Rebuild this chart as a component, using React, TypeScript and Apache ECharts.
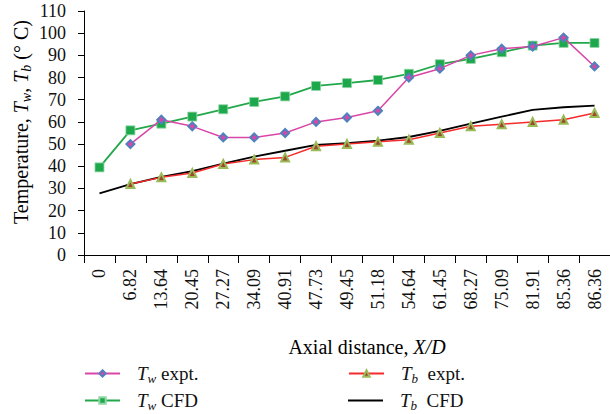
import React, { useEffect, useRef } from "react";
import * as echarts from "echarts";

// Axial positions X/D
const categories = [
  "0", "6.82", "13.64", "20.45", "27.27", "34.09", "40.91", "47.73", "49.45",
  "51.18", "54.64", "61.45", "68.27", "75.09", "81.91", "85.36", "86.36",
];

// Wall temperature, experiment (°C)
const twExpt = [null, 50, 61, 58, 53, 53, 55, 60, 62, 65, 80, 84, 90, 93, 94, 98, 85];
// Wall temperature, CFD (°C)
const twCfd = [39.5, 56.2, 59.2, 62.4, 65.7, 69, 71.5, 76.2, 77.5, 78.9, 81.7, 86, 88.4, 91.4, 94.4, 95.6, 95.6];
// Bulk temperature, experiment (°C)
const tbExpt = [null, 32, 35, 37, 41, 43, 44, 49, 50, 51, 52, 55, 58, 59, 60, 61, 64];
// Bulk temperature, CFD (°C)
const tbCfd = [27.8, 32, 35.2, 37.8, 41.2, 44.4, 47, 49.6, 50.4, 51.6, 53.2, 56, 59.2, 62.4, 65.4, 66.6, 67.3];

const yTicks = { min: 0, max: 110, interval: 10 };

const FONT = "Liberation Serif";

function richSet(size: number) {
  const sub = Math.round(size * 0.68);
  return {
    n: { fontFamily: FONT, fontSize: size, lineHeight: size + 4, color: "#111" },
    i: { fontFamily: FONT, fontSize: size, lineHeight: size + 4, fontStyle: "italic", color: "#111" },
    s: {
      fontFamily: FONT,
      fontSize: sub,
      lineHeight: sub,
      fontStyle: "italic",
      color: "#111",
      verticalAlign: "bottom",
      padding: [Math.round(size * 0.35), 0, 0, 0],
    },
  };
}

const legendLabels: Record<string, string> = {
  "Tw expt.": "{i|T}{s|w}{n| expt.}",
  "Tw CFD": "{i|T}{s|w}{n| CFD}",
  "Tb expt.": "{i|T}{s|b}{n|  expt.}",
  "Tb CFD": "{i|T}{s|b}{n|  CFD}",
};

function legendAt(name: string, left: number, top: number, plainLine = false) {
  return {
    data: [plainLine ? { name, icon: "rect" } : name],
    left,
    top,
    itemWidth: 35,
    itemHeight: plainLine ? 2 : 8,
    itemGap: 0,
    padding: 0,
    selectedMode: false,
    formatter: (n: string) => legendLabels[n],
    textStyle: { padding: [0, 0, 0, 12], rich: richSet(19) },
  };
}

export default function App() {
  const ref = useRef<HTMLDivElement>(null);

  useEffect(() => {
    if (!ref.current) return;
    const chart = echarts.init(ref.current, null, { renderer: "svg" });
    chart.setOption({
      animation: false,
      backgroundColor: "#fff",
      grid: { left: 84, right: 0, top: 11, bottom: 159 },
      xAxis: {
        type: "category",
        data: categories,
        boundaryGap: true,
        axisLine: { lineStyle: { color: "#000", width: 1 } },
        axisTick: { show: true, length: 8, lineStyle: { color: "#000" } },
        axisLabel: {
          rotate: 90,
          margin: 14,
          interval: 0,
          fontFamily: FONT,
          fontSize: 18,
          color: "#111",
        },
      },
      yAxis: {
        type: "value",
        ...yTicks,
        axisLine: { show: true, lineStyle: { color: "#000", width: 1 } },
        axisTick: { show: true, length: 6, lineStyle: { color: "#000" } },
        splitLine: { show: false },
        axisLabel: { margin: 18, fontFamily: FONT, fontSize: 18, color: "#111" },
      },
      legend: [
        legendAt("Tw expt.", 84, 364),
        legendAt("Tw CFD", 84, 391),
        legendAt("Tb expt.", 348, 364),
        legendAt("Tb CFD", 348, 391, true),
      ],
      graphic: [
        {
          type: "text",
          x: 367,
          y: 347,
          style: {
            text: "{n|Axial distance, }{i|X/D}",
            rich: richSet(20),
            align: "center",
            verticalAlign: "middle",
          },
        },
        {
          type: "text",
          x: 21,
          y: 122,
          rotation: Math.PI / 2,
          style: {
            text: "{n|Temperature, }{i|T}{s|w}{n|, }{i|T}{s|b}{n| (° C)}",
            rich: richSet(20),
            align: "center",
            verticalAlign: "middle",
          },
        },
      ],
      series: [
        {
          name: "Tw expt.",
          type: "line",
          data: twExpt,
          symbol: "diamond",
          symbolSize: 8,
          lineStyle: { color: "#d946a8", width: 1.5 },
          itemStyle: { color: "#d946a8", borderColor: "#4f81bd", borderWidth: 2 },
          z: 4,
        },
        {
          name: "Tw CFD",
          type: "line",
          data: twCfd,
          symbol: "rect",
          symbolSize: 9,
          lineStyle: { color: "#22a84a", width: 1.8 },
          itemStyle: { color: "#1ea84c", borderColor: "#8fd6a4", borderWidth: 0.8 },
          z: 3,
        },
        {
          name: "Tb expt.",
          type: "line",
          data: tbExpt,
          symbol: "triangle",
          symbolSize: 8,
          lineStyle: { color: "#f52a2a", width: 1.5 },
          itemStyle: { color: "#9a4a2a", borderColor: "#9bbb59", borderWidth: 2 },
          z: 3,
        },
        {
          name: "Tb CFD",
          type: "line",
          data: tbCfd,
          symbol: "none",
          showSymbol: false,
          lineStyle: { color: "#000", width: 1.8 },
          itemStyle: { color: "#000" },
          z: 2,
        },
      ],
    });
    return () => chart.dispose();
  }, []);

  return (
    <div
      ref={ref}
      style={{ position: "absolute", left: 0, top: 0, width: 610, height: 414 }}
    />
  );
}
